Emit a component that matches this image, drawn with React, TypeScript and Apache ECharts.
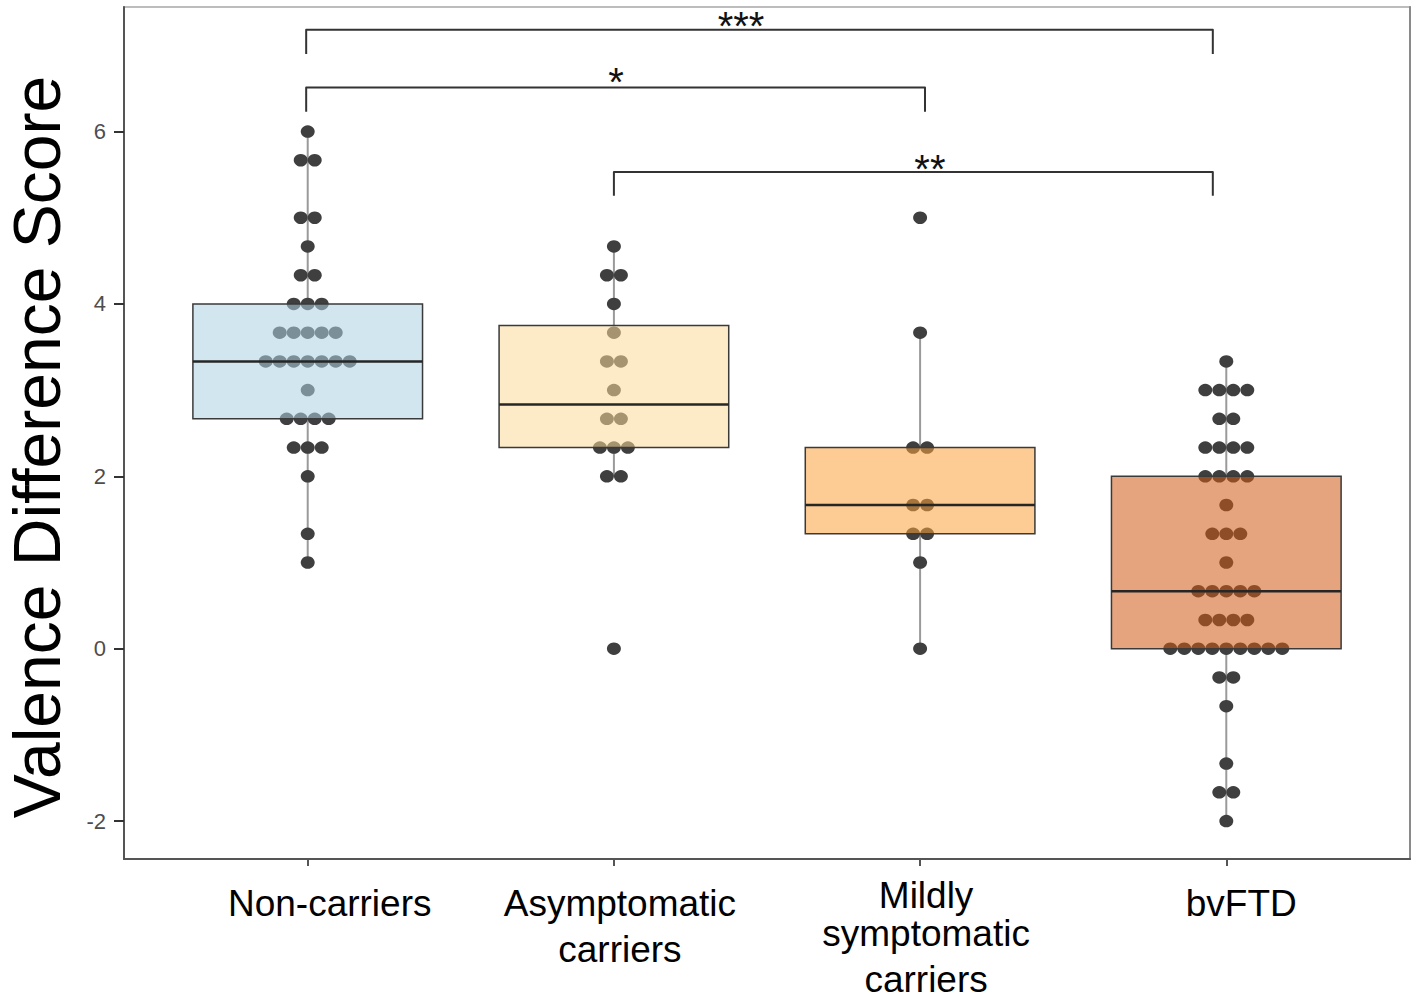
import React, { useEffect, useRef } from "react";
import * as echarts from "echarts";

// ---- data ----
const categories = [
  "Non-carriers",
  "Asymptomatic\ncarriers",
  "Mildly\nsymptomatic\ncarriers",
  "bvFTD",
];

const nonCarriers = [
  6, 5.667, 5.667, 5, 5, 4.667, 4.333, 4.333, 4, 4, 4,
  3.667, 3.667, 3.667, 3.667, 3.667,
  3.333, 3.333, 3.333, 3.333, 3.333, 3.333, 3.333,
  3, 2.667, 2.667, 2.667, 2.667, 2.333, 2.333, 2.333, 2, 1.333, 1,
];
const asymptomatic = [
  4.667, 4.333, 4.333, 4, 3.667, 3.333, 3.333, 3, 2.667, 2.667,
  2.333, 2.333, 2.333, 2, 2, 0,
];
const mildly = [5, 3.667, 2.333, 2.333, 1.667, 1.667, 1.333, 1.333, 1, 0];
const bvftd = [
  3.333, 3, 3, 3, 3, 2.667, 2.667, 2.333, 2.333, 2.333, 2.333,
  2, 2, 2, 2, 1.667, 1.333, 1.333, 1.333, 1,
  0.667, 0.667, 0.667, 0.667, 0.667, 0.333, 0.333, 0.333, 0.333,
  0, 0, 0, 0, 0, 0, 0, 0, 0,
  -0.333, -0.333, -0.667, -1.333, -1.667, -1.667, -2,
];
const groups = [nonCarriers, asymptomatic, mildly, bvftd];

const yTicks = [-2, 0, 2, 4, 6];

// significance brackets
const bracketX1 = [0.995, 0.995, 2.0];
const bracketX2 = [3.956, 3.016, 3.956];
const bracketBarY = [7.18, 6.51, 5.53];
const bracketTipY = [6.9, 6.23, 5.255];
const bracketLabelX = [2.415, 2.007, 3.032];
const bracketLabelY = [7.225, 6.58, 5.567];
const bracketLabels = ["***", "*", "**"];

// ---- styles ----
const boxColors = [
  "rgba(173,210,228,0.55)",
  "rgba(251,218,155,0.55)",
  "rgba(251,160,60,0.55)",
  "rgba(208,90,20,0.55)",
];
const labelPadLeft = [44, 12, 12, 30];

// ---- helpers ----
function quantile(sorted: number[], p: number) {
  const idx = (sorted.length - 1) * p;
  const lo = Math.floor(idx);
  const hi = Math.ceil(idx);
  return sorted[lo] + (sorted[hi] - sorted[lo]) * (idx - lo);
}
function boxStats(values: number[]) {
  const s = [...values].sort((a, b) => a - b);
  const q1 = quantile(s, 0.25);
  const med = quantile(s, 0.5);
  const q3 = quantile(s, 0.75);
  const iqr = q3 - q1;
  const tol = 0.01;
  const lo = Math.min(...s.filter((v) => v >= q1 - 1.5 * iqr - tol));
  const hi = Math.max(...s.filter((v) => v <= q3 + 1.5 * iqr + tol));
  return [q1, med, q3, lo, hi];
}

const FONT = "'Liberation Sans', Arial, sans-serif";
const DOT_STEP = 14;

export default function App() {
  const ref = useRef<HTMLDivElement>(null);
  useEffect(() => {
    document.body.style.margin = "0";
    if (!ref.current) return;
    const chart = echarts.init(ref.current, null, { renderer: "svg" });

    const boxData = groups.map((g, i) => [i + 1, ...boxStats(g), i]);

    const dotData: any[] = [];
    groups.forEach((g, i) => {
      const counts = new Map<number, number>();
      g.forEach((v) => counts.set(v, (counts.get(v) || 0) + 1));
      counts.forEach((n, v) => {
        for (let k = 0; k < n; k++) {
          dotData.push({
            value: [i + 1, v],
            symbolOffset: [(k - (n - 1) / 2) * DOT_STEP, 0],
          });
        }
      });
    });

    const bracketData = bracketX1.map((x1, i) => [
      x1, bracketX2[i], bracketBarY[i], bracketTipY[i], bracketLabelX[i], bracketLabelY[i], i,
    ]);

    const rich: any = {};
    labelPadLeft.forEach((p, i) => {
      rich["a" + i] = { fontSize: 37, lineHeight: 30, color: "#000", fontFamily: FONT, padding: [0, 0, 0, p] };
      rich["b" + i] = { fontSize: 37, lineHeight: 46, color: "#000", fontFamily: FONT, padding: [0, 0, 0, p] };
    });

    const option: any = {
      animation: false,
      grid: {
        left: 124,
        right: 8,
        top: 7,
        bottom: 141,
        show: true,
        borderColor: "#bdbdbd",
        borderWidth: 2,
        backgroundColor: "transparent",
      },
      xAxis: {
        type: "value",
        min: 0.4,
        max: 4.6,
        splitLine: { show: false },
        axisLine: { show: true, onZero: false, lineStyle: { color: "#555", width: 2 } },
        axisTick: {
          show: true,
          customValues: [1, 2, 3, 4],
          length: 7,
          lineStyle: { color: "#555", width: 2 },
        },
        axisLabel: {
          customValues: [1, 2, 3, 4],
          margin: 21,
          formatter: (v: number) => {
            const i = Math.round(v) - 1;
            const lines = categories[i].split("\n");
            if (lines.length === 3) {
              return `{a${i}|${lines[0]}}\n{b${i}|${lines[1]}}\n{b${i}|${lines[2]}}`;
            }
            return lines.map((l) => `{b${i}|${l}}`).join("\n");
          },
          rich,
        },
      },
      yAxis: [
        {
          type: "value",
          min: -2.44,
          max: 7.445,
          splitLine: { show: false },
          axisLine: { show: true, onZero: false, lineStyle: { color: "#555", width: 2 } },
          axisTick: {
            show: true,
            customValues: yTicks,
            length: 10,
            lineStyle: { color: "#333", width: 2 },
          },
          axisLabel: {
            customValues: yTicks,
            margin: 18,
            fontSize: 22,
            color: "#4d4d4d",
            fontFamily: FONT,
          },
        },
        {
          type: "value",
          position: "right",
          min: -2.44,
          max: 7.445,
          splitLine: { show: false },
          axisLine: { show: true, onZero: false, lineStyle: { color: "#8a8a8a", width: 2 } },
          axisTick: { show: false },
          axisLabel: { show: false },
        },
      ],
      graphic: [
        {
          type: "text",
          x: 37,
          y: 447,
          rotation: Math.PI / 2,
          style: {
            text: "Valence Difference Score",
            fontSize: 66,
            fontFamily: FONT,
            fill: "#000",
            align: "center",
            verticalAlign: "middle",
          },
        },
      ],
      series: [
        {
          type: "custom",
          name: "whiskers",
          z: 1,
          data: boxData,
          encode: { x: 0, y: [1, 2, 3, 4, 5] },
          renderItem: (params: any, api: any) => {
            const x = api.value(0);
            const q1 = api.coord([x, api.value(1)]);
            const q3 = api.coord([x, api.value(3)]);
            const lo = api.coord([x, api.value(4)]);
            const hi = api.coord([x, api.value(5)]);
            const style = { stroke: "#9a9a9a", lineWidth: 2 };
            return {
              type: "group",
              children: [
                { type: "line", shape: { x1: q3[0], y1: q3[1], x2: hi[0], y2: hi[1] }, style },
                { type: "line", shape: { x1: q1[0], y1: q1[1], x2: lo[0], y2: lo[1] }, style },
              ],
            };
          },
        },
        {
          type: "scatter",
          name: "dots",
          z: 2,
          data: dotData,
          symbol: "circle",
          symbolSize: [14, 12.5],
          itemStyle: { color: "#3f3f3f", opacity: 1 },
        },
        {
          type: "custom",
          name: "boxes",
          z: 3,
          data: boxData,
          encode: { x: 0, y: [1, 2, 3] },
          renderItem: (params: any, api: any) => {
            const x = api.value(0);
            const half = 0.375;
            const tl = api.coord([x - half, api.value(3)]);
            const br = api.coord([x + half, api.value(1)]);
            const ml = api.coord([x - half, api.value(2)]);
            const mr = api.coord([x + half, api.value(2)]);
            const ci = api.value(6);
            return {
              type: "group",
              children: [
                {
                  type: "rect",
                  shape: { x: tl[0], y: tl[1], width: br[0] - tl[0], height: br[1] - tl[1] },
                  style: { fill: boxColors[ci], stroke: "#3a3a3a", lineWidth: 1.5 },
                },
                {
                  type: "line",
                  shape: { x1: ml[0], y1: ml[1], x2: mr[0], y2: mr[1] },
                  style: { stroke: "#262626", lineWidth: 2.5 },
                },
              ],
            };
          },
        },
        {
          type: "custom",
          name: "brackets",
          z: 4,
          data: bracketData,
          encode: { x: [0, 1], y: [2, 3] },
          renderItem: (params: any, api: any) => {
            const x1 = api.value(0);
            const x2 = api.value(1);
            const yb = api.value(2);
            const yt = api.value(3);
            const p1 = api.coord([x1, yt]);
            const p2 = api.coord([x1, yb]);
            const p3 = api.coord([x2, yb]);
            const p4 = api.coord([x2, yt]);
            const lp = api.coord([api.value(4), api.value(5)]);
            return {
              type: "group",
              children: [
                {
                  type: "polyline",
                  shape: { points: [p1, p2, p3, p4] },
                  style: { stroke: "#333", lineWidth: 2, fill: "none", lineJoin: "round" },
                },
                {
                  type: "text",
                  x: lp[0],
                  y: lp[1],
                  style: {
                    text: bracketLabels[api.value(6)],
                    fontSize: 40,
                    fontFamily: FONT,
                    fill: "#111",
                    align: "center",
                    verticalAlign: "middle",
                  },
                },
              ],
            };
          },
        },
      ],
    };
    chart.setOption(option);
    return () => chart.dispose();
  }, []);
  return <div ref={ref} style={{ width: "1418px", height: "1000px" }} />;
}
